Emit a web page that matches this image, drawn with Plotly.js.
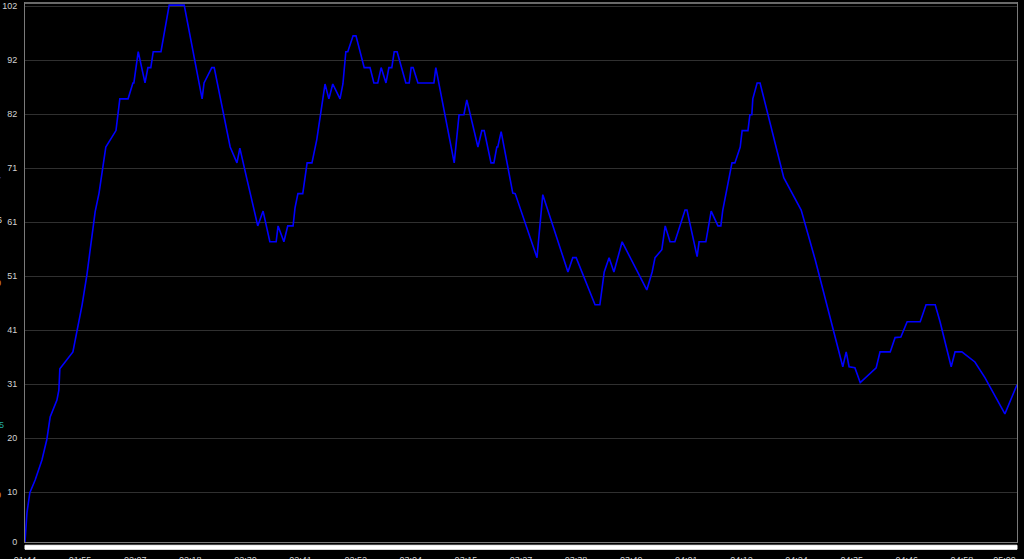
<!DOCTYPE html>
<html>
<head>
<meta charset="utf-8">
<script src="https://cdn.plot.ly/plotly-3.0.1.min.js"></script>
<style>
  html, body { margin: 0; padding: 0; background: #000; overflow: hidden; }
  #chart { width: 1024px; height: 559px; }
</style>
</head>
<body>
<div id="chart"></div>
<script>
// ---- data ----
const xTickLabels = ['01:44','01:55','02:07','02:18','02:30','02:41','02:52','03:04','03:15','03:27','03:38','03:49','04:01','04:12','04:24','04:35','04:46','04:58','05:09'];
const yTickLabels = ['0','10','20','31','41','51','61','71','82','92','102'];

// time in seconds
const timeSec = [
  104.0,104.4,105.0,106.1,107.5,108.5,109.2,110.6,111.0,111.2,
  113.9,114.7,115.8,116.8,117.6,118.5,119.3,119.9,120.7,122.8,
  123.6,125.3,126.3,126.5,127.4,128.8,129.4,130.0,130.5,132.1,
  133.8,136.9,140.6,141.0,142.6,143.1,146.4,147.8,148.4,149.9,
  152.1,153.2,154.6,155.9,156.3,157.5,158.3,159.4,159.8,160.4,
  161.4,162.3,163.3,164.3,166.0,166.8,167.6,169.1,169.7,170.3,
  170.7,171.8,172.4,174.1,175.3,176.1,176.9,177.6,178.6,179.2,
  179.8,180.3,180.9,182.7,183.4,183.8,184.2,185.2,188.5,188.9,
  192.7,193.7,194.7,195.3,197.6,198.4,198.9,200.3,200.9,201.5,
  201.7,202.4,204.8,205.3,209.8,211.0,216.2,217.2,217.9,221.8,
  222.8,223.7,224.7,225.7,227.4,232.5,233.6,234.2,235.6,236.3,
  237.3,238.3,239.4,240.4,240.8,242.9,243.3,244.7,245.8,247.2,
  247.8,248.2,250.1,250.7,251.8,252.2,253.4,253.8,254.2,254.4,
  255.3,255.9,260.8,264.4,267.3,272.4,273.0,273.7,274.3,275.5,
  276.6,279.9,280.7,282.8,283.8,285.0,286.3,289.0,290.2,292.1,
  293.1,295.4,296.2,297.6,300.3,302.4,306.5,309.0
];

const values = [
  0.8,6.3,10.1,12.5,16.3,20.1,24.4,27.6,29.5,33.5,
  36.7,40.3,45.6,51.3,56.5,63.2,66.7,70.5,75.4,78.5,
  84.5,84.5,87.5,87.5,93.4,87.5,90.4,90.4,93.4,93.4,
  102.2,102.2,84.5,87.5,90.4,90.4,75.4,72.4,75.2,69.2,
  60.5,63.3,57.5,57.5,60.5,57.5,60.5,60.5,63.9,66.6,
  66.6,72.4,72.4,76.8,87.3,84.5,87.3,84.5,87.3,93.4,
  93.4,96.4,96.4,90.4,90.4,87.5,87.5,90.4,87.5,90.4,
  90.4,93.4,93.4,87.5,87.5,90.4,90.4,87.5,87.5,90.4,
  72.4,81.5,81.5,84.3,75.4,78.5,78.5,72.4,72.4,75.4,
  75.4,78.3,66.7,66.6,54.5,66.4,51.8,54.5,54.5,45.6,
  45.6,51.8,54.5,51.8,57.5,48.4,51.8,54.5,56.0,60.5,
  57.5,57.5,60.5,63.5,63.5,54.7,57.5,57.5,63.3,60.5,
  60.5,63.5,72.4,72.4,75.4,78.5,78.5,81.5,81.5,84.5,
  87.5,87.5,69.6,63.5,54.1,36.1,33.9,36.7,33.9,33.7,
  30.9,33.7,36.7,36.7,39.4,39.5,42.4,42.4,45.6,45.6,
  42.4,33.9,36.7,36.7,34.8,31.8,25.0,30.5
];

// ---- axes ----
const xRange = [104, 309];
const yRange = [0.8, 102.6];
const xStep = (xRange[1] - xRange[0]) / (xTickLabels.length - 1);
const xTickVals = xTickLabels.map((t, i) => xRange[0] + i * xStep);
const xTickText = xTickLabels.map((t, i) => i === xTickLabels.length - 1 ? t + '\u00a0'.repeat(10) : t);
const yTickVals = yTickLabels.map((t, i) => i === 0 ? yRange[0] + 0.05 : i * 10.2);

const tickFont = { family: 'Liberation Sans, Arial, sans-serif', size: 9, color: '#d2d2d2' };

const trace = {
  type: 'scatter',
  mode: 'lines',
  x: timeSec,
  y: values,
  line: { color: '#0000ff', width: 1.6 },
  hoverinfo: 'skip',
  showlegend: false
};

// left-edge clipped labels of other series
function px2paperX(px) { return (px - 25) / 992; }
function px2paperY(py) { return (542 - py) / 539; }
const edgeMarks = [
  { t: '7', c: '#2a3cff', py: 180, right: 2 },
  { t: '6', c: '#d8d8d8', py: 220, right: 3 },
  { t: '0', c: '#e09a40', py: 283, right: 2 },
  { t: '5', c: '#22a8a0', py: 425, right: 5 },
  { t: '0', c: '#e09a40', py: 495, right: 2 }
];

const layout = {
  width: 1024,
  height: 559,
  margin: { l: 25, r: 7, t: 3, b: 17 },
  paper_bgcolor: '#000000',
  plot_bgcolor: '#000000',
  showlegend: false,
  xaxis: {
    range: xRange,
    tickmode: 'array',
    tickvals: xTickVals,
    ticktext: xTickText,
    showgrid: false,
    zeroline: false,
    showline: true,
    mirror: true,
    linecolor: '#7a7a7a',
    linewidth: 1,
    ticks: '',
    ticklabelstandoff: 9,
    ticklabeloverflow: 'allow',
    tickfont: tickFont,
    fixedrange: true
  },
  yaxis: {
    range: yRange,
    tickmode: 'array',
    tickvals: yTickVals,
    ticktext: yTickLabels,
    showgrid: true,
    gridcolor: '#303030',
    gridwidth: 1,
    zeroline: false,
    showline: true,
    mirror: true,
    linecolor: '#7a7a7a',
    linewidth: 1,
    ticks: '',
    ticklabelstandoff: 5,
    tickfont: tickFont,
    fixedrange: true
  },
  shapes: [
    { type: 'rect', xref: 'paper', yref: 'paper', x0: 0, x1: 1, y0: -0.0135, y1: -0.0060,
      fillcolor: '#ffffff', line: { color: '#ffffff', width: 1 }, layer: 'above' },
    { type: 'line', xref: 'paper', yref: 'paper', x0: 0, x1: 1, y0: 1, y1: 1,
      line: { color: '#6a6a6a', width: 2 } }
  ],
  annotations: edgeMarks.map(m => ({
    xref: 'paper', yref: 'paper',
    x: px2paperX(m.right), y: px2paperY(m.py),
    xanchor: 'right', yanchor: 'middle',
    text: m.t, showarrow: false,
    font: { family: 'Liberation Sans, Arial, sans-serif', size: 9, color: m.c },
    borderpad: 0
  }))
};

Plotly.newPlot('chart', [trace], layout, { staticPlot: true, displayModeBar: false });
</script>
</body>
</html>
